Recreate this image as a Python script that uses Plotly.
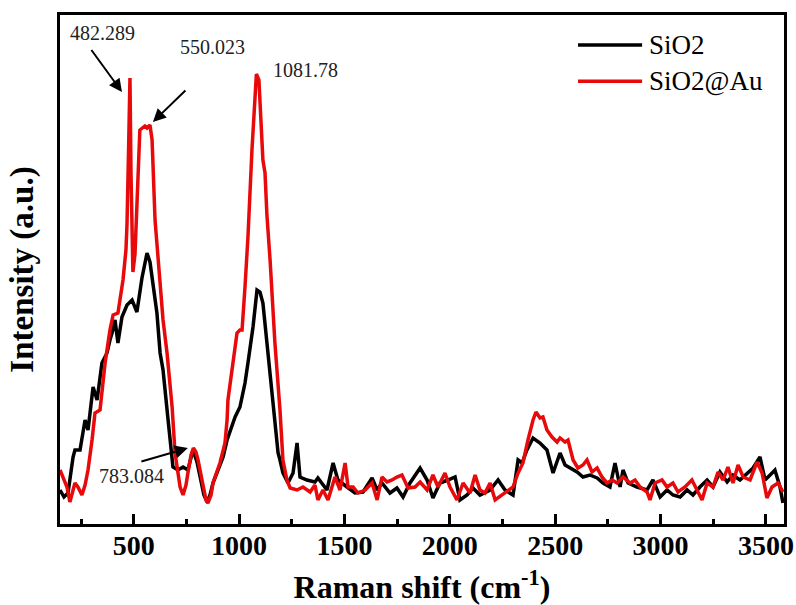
import plotly.graph_objects as go

# ---------------- data (Raman shift in cm^-1, intensity in a.u.) ----------------
sio2_x = [150, 169, 188, 202, 212, 221, 245, 269, 283, 307, 326, 349, 373, 387, 397, 411, 425, 444,
          468, 492, 515, 539, 563, 577, 587, 610, 625, 639, 663, 686, 710, 734, 757, 781, 800, 814,
          833, 848, 862, 876, 900, 924, 943, 966, 981, 1004, 1028, 1042, 1066, 1085, 1099, 1113,
          1137, 1161, 1185, 1194, 1208, 1232, 1256, 1275, 1289, 1322, 1360, 1374, 1417, 1446, 1469,
          1512, 1550, 1588, 1631, 1655, 1678, 1716, 1749, 1778, 1811, 1859, 1892, 1920, 1953, 1991,
          2025, 2048, 2082, 2110, 2143, 2191, 2229, 2262, 2300, 2324, 2343, 2366, 2395, 2428, 2461,
          2490, 2523, 2547, 2570, 2604, 2632, 2665, 2699, 2727, 2760, 2784, 2808, 2822, 2846, 2888,
          2936, 2964, 2998, 3031, 3059, 3093, 3126, 3154, 3187, 3221, 3249, 3282, 3316, 3344, 3377,
          3410, 3439, 3472, 3496, 3520, 3543, 3567, 3581]
sio2_y = [34, 27, 31, 54, 67, 74, 74, 104, 94, 137, 124, 161, 171, 184, 191, 204, 181, 207,
          219, 224, 212, 246, 271, 262, 247, 211, 171, 154, 104, 57, 54, 57, 54, 74, 62, 47,
          29, 22, 29, 41, 54, 67, 84, 97, 107, 117, 141, 161, 197, 234, 232, 221,
          171, 124, 71, 64, 51, 41, 51, 81, 47, 44, 42, 46, 34, 61, 44,
          37, 31, 32, 46, 34, 41, 31, 36, 27, 41, 56, 44, 26, 41, 44,
          47, 24, 29, 36, 29, 34, 44, 34, 29, 64, 61, 74, 86, 81, 74,
          51, 71, 59, 56, 52, 47, 49, 46, 41, 37, 61, 37, 54, 41, 37,
          34, 44, 27, 34, 29, 27, 34, 29, 37, 44, 37, 52, 42, 49, 44,
          51, 56, 67, 44, 49, 54, 37, 21]

au_x = [150, 169, 183, 197, 212, 221, 235, 254, 269, 283, 302, 316, 340, 354, 364, 387, 402, 425,
        440, 449, 463, 468, 476, 482, 487, 496, 506, 515, 529, 553, 563, 577, 587, 601, 625, 639,
        658, 682, 696, 720, 734, 748, 757, 772, 783, 795, 805, 829, 843, 852, 867, 876, 895, 909,
        933, 943, 947, 962, 971, 990, 1004, 1014, 1028, 1042, 1061, 1075, 1082, 1094, 1109, 1113,
        1123, 1132, 1147, 1170, 1194, 1208, 1227, 1242, 1275, 1303, 1337, 1360, 1374, 1398, 1422,
        1455, 1479, 1503, 1517, 1541, 1564, 1598, 1631, 1655, 1678, 1702, 1726, 1749, 1773, 1802,
        1835, 1859, 1892, 1920, 1944, 1977, 2001, 2034, 2063, 2096, 2120, 2143, 2167, 2191, 2215,
        2248, 2276, 2300, 2324, 2347, 2371, 2395, 2409, 2428, 2442, 2461, 2485, 2509, 2523, 2547,
        2561, 2585, 2608, 2632, 2651, 2675, 2699, 2722, 2746, 2770, 2794, 2822, 2855, 2879, 2903,
        2936, 2950, 2974, 3007, 3031, 3059, 3083, 3116, 3149, 3173, 3197, 3221, 3249, 3273, 3297,
        3320, 3344, 3368, 3392, 3425, 3458, 3482, 3505, 3529, 3558, 3581]
au_y = [54, 44, 37, 22, 34, 41, 37, 29, 39, 54, 84, 111, 114, 139, 161, 194, 209, 211,
        229, 244, 274, 300, 380, 446, 350, 252, 270, 324, 394, 398, 396, 399, 384, 304, 237, 204,
        171, 117, 71, 37, 29, 39, 51, 69, 76, 72, 64, 37, 24, 21, 29, 41, 52, 61,
        81, 104, 124, 149, 161, 191, 194, 194, 237, 287, 374, 434, 450, 444, 384, 364,
        351, 309, 264, 181, 114, 64, 44, 36, 34, 37, 32, 39, 24, 34, 24,
        47, 34, 61, 37, 37, 31, 34, 41, 24, 47, 42, 44, 47, 49, 36,
        37, 42, 34, 49, 37, 51, 37, 24, 41, 31, 49, 34, 31, 41, 24,
        29, 34, 37, 51, 61, 84, 104, 112, 106, 107, 94, 87, 82, 86, 82,
        84, 64, 56, 59, 64, 52, 56, 47, 41, 44, 41, 47, 41, 44, 37,
        32, 24, 41, 44, 37, 41, 32, 37, 44, 34, 24, 41, 37, 52, 44,
        57, 41, 59, 47, 44, 62, 51, 26, 37, 41, 32]

series_names = ["SiO2", "SiO2@Au"]
series_colors = ["#000000", "#e8090b"]
x_tick_vals = [500, 1000, 1500, 2000, 2500, 3000, 3500]
peak_labels = ["482.289", "550.023", "1081.78", "783.084"]

SERIF = "Liberation Serif"

fig = go.Figure()
fig.add_trace(go.Scatter(x=sio2_x, y=sio2_y, mode="lines", name=series_names[0],
                         line=dict(color=series_colors[0], width=3.5), showlegend=False))
fig.add_trace(go.Scatter(x=au_x, y=au_y, mode="lines", name=series_names[1],
                         line=dict(color=series_colors[1], width=3.5), showlegend=False))

# peak annotations
ann_font = dict(family=SERIF, size=20, color="#222222")
arrow_kw = dict(showarrow=True, arrowhead=2, arrowsize=1.3, arrowwidth=2, arrowcolor="black",
                font=dict(family=SERIF, size=1, color="rgba(0,0,0,0)"))
fig.add_annotation(x=354, y=491, text=peak_labels[0], showarrow=False, font=ann_font)
fig.add_annotation(x=444, y=432, text=" ", ax=-32, ay=-44, **arrow_kw)
fig.add_annotation(x=876, y=477, text=peak_labels[1], showarrow=False, font=ann_font)
fig.add_annotation(x=591, y=402, text=" ", ax=34, ay=-33, **arrow_kw)
fig.add_annotation(x=1313, y=454, text=peak_labels[2], showarrow=False, font=ann_font)
fig.add_annotation(x=487, y=48, text=peak_labels[3], showarrow=False, font=ann_font)
fig.add_annotation(x=757, y=76, text=" ", ax=-48, ay=14, **arrow_kw)

# manual legend (long line samples as in the original)
leg_y = [0.941, 0.870]
for name, col, yy in zip(series_names, series_colors, leg_y):
    fig.add_shape(type="line", xref="paper", yref="paper", x0=0.7155, x1=0.804, y0=yy, y1=yy,
                  line=dict(color=col, width=3.5))
    fig.add_annotation(xref="paper", yref="paper", x=0.811, y=yy, text=name, showarrow=False,
                       xanchor="left", yanchor="middle",
                       font=dict(family=SERIF, size=27, color="black"))

fig.update_layout(
    width=796, height=605,
    margin=dict(l=60, r=12, t=15, b=81),
    paper_bgcolor="white", plot_bgcolor="white",
    font=dict(family=SERIF, color="black"),
)
fig.update_xaxes(
    range=[150, 3586], showgrid=False, zeroline=False,
    showline=True, linecolor="black", linewidth=3, mirror=True,
    ticks="inside", ticklen=10, tickwidth=2.5, tickcolor="black",
    tickvals=x_tick_vals, ticktext=[str(v) for v in x_tick_vals],
    minor=dict(ticks="inside", ticklen=5, tickwidth=2.5, tickcolor="black", dtick=250, tick0=0),
    tickfont=dict(family=SERIF, size=28, color="black", weight="bold"),
    ticklabelstandoff=-6,
    title=dict(text="Raman shift (cm<sup>-1</sup>)", standoff=18,
               font=dict(family=SERIF, size=32, color="black", weight="bold")),
    automargin=False,
)
fig.update_yaxes(
    range=[0, 509], showgrid=False, zeroline=False,
    showline=True, linecolor="black", linewidth=3, mirror=True,
    ticks="", showticklabels=False,
    title=dict(text="Intensity (a.u.)", standoff=14,
               font=dict(family=SERIF, size=33, color="black", weight="bold")),
    automargin=False,
)

fig.write_html("out.html")
